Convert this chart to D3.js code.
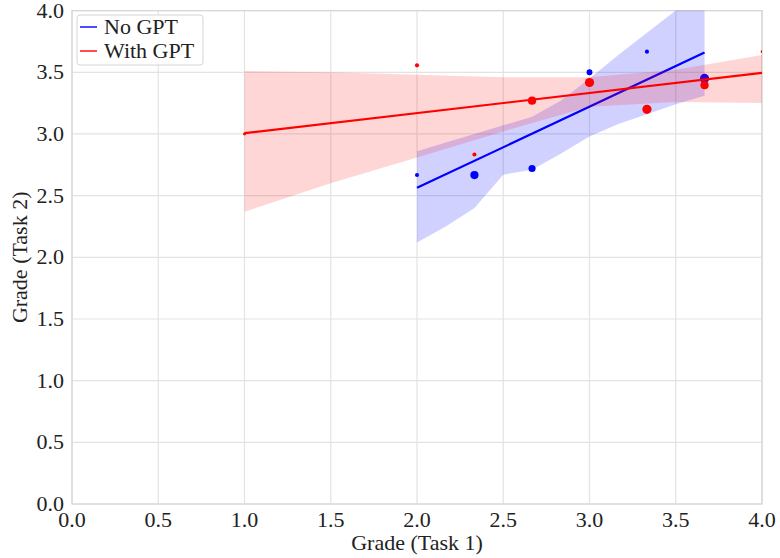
<!DOCTYPE html>
<html lang="en">
<head>
	<meta charset="utf-8">
	<title>Grade Task 1 vs Task 2</title>
	<script src="https://d3js.org/d3.v7.min.js" charset="utf-8"></script>
	<style>
		body { margin: 0; background: #fff; }
		text { font-family: "Liberation Serif", "DejaVu Serif", serif; fill: #222; }
	</style>
</head>
<body>
	<script>
		// scatter points (Task 1 grade, Task 2 grade, count)
		var noGptX = [2.0, 2.333, 2.667, 3.0, 3.333, 3.667];
		var noGptY = [2.667, 2.667, 2.72, 3.5, 3.667, 3.45];
		var noGptN = [1, 4, 3, 2, 1, 5];

		var withGptX = [1.0, 2.0, 2.333, 2.667, 3.0, 3.333, 3.667, 4.0];
		var withGptY = [3.0, 3.556, 2.833, 3.27, 3.417, 3.2, 3.395, 3.667];
		var withGptN = [0.5, 1, 1, 4, 5, 5, 4, 0.4];

		// fitted lines (endpoints)
		var noGptFitX = [2.0, 3.667];
		var noGptFitY = [2.563, 3.66];
		var withGptFitX = [1.0, 4.0];
		var withGptFitY = [3.006, 3.495];

		// confidence bands
		var noGptBandX = [2.0, 2.167, 2.333, 2.5, 2.667, 2.833, 3.0, 3.167, 3.333, 3.5, 3.667];
		var noGptBandLo = [2.12, 2.25, 2.40, 2.67, 2.71, 2.84, 2.98, 3.08, 3.16, 3.24, 3.31];
		var noGptBandHi = [2.86, 2.93, 3.00, 3.07, 3.14, 3.27, 3.45, 3.64, 3.82, 4.0, 4.35];

		var withGptBandX = [1.0, 1.5, 2.0, 2.5, 3.0, 3.5, 4.0];
		var withGptBandLo = [2.37, 2.60, 2.81, 3.02, 3.22, 3.26, 3.25];
		var withGptBandHi = [3.51, 3.50, 3.48, 3.46, 3.46, 3.52, 3.64];

		var tickValues = [0, 0.5, 1, 1.5, 2, 2.5, 3, 3.5, 4];

		var w = 780;
		var h = 558;
		var mLeft = 72, mRight = 762, mTop = 10.6, mBottom = 504;

		var svg = d3.select("body")
			.append("svg")
			.attr("width", w)
			.attr("height", h);

		var x = d3.scaleLinear().domain([0, 4]).range([mLeft, mRight]);
		var y = d3.scaleLinear().domain([0, 4]).range([mBottom, mTop]);
		var r = d3.scaleSqrt().domain([0, 5]).range([0, 4.6]);

		svg.append("clipPath")
			.attr("id", "plotclip")
			.append("rect")
			.attr("x", mLeft).attr("y", mTop)
			.attr("width", mRight - mLeft).attr("height", mBottom - mTop);

		// grid
		svg.append("g")
			.selectAll("line")
			.data(tickValues)
			.enter()
			.append("line")
			.attr("x1", function(d){ return x(d); })
			.attr("x2", function(d){ return x(d); })
			.attr("y1", mTop).attr("y2", mBottom)
			.attr("stroke", "#e3e3e3").attr("stroke-width", 1.2);
		svg.append("g")
			.selectAll("line")
			.data(tickValues)
			.enter()
			.append("line")
			.attr("y1", function(d){ return y(d); })
			.attr("y2", function(d){ return y(d); })
			.attr("x1", mLeft).attr("x2", mRight)
			.attr("stroke", "#e3e3e3").attr("stroke-width", 1.2);

		// frame
		svg.append("rect")
			.attr("x", mLeft).attr("y", mTop)
			.attr("width", mRight - mLeft).attr("height", mBottom - mTop)
			.attr("fill", "none")
			.attr("stroke", "#d6d6d6")
			.attr("stroke-width", 1.2);

		var plot = svg.append("g").attr("clip-path", "url(#plotclip)");

		function drawSeries(color, px, py, pn, fx, fy, bx, lo, hi, fillOpacity) {
			var pts = px.map(function(d, i){ return { x: d, y: py[i], n: pn[i] }; });
			plot.selectAll(null)
				.data(pts)
				.enter()
				.append("circle")
				.attr("cx", function(d){ return x(d.x); })
				.attr("cy", function(d){ return y(d.y); })
				.attr("r", function(d){ return r(d.n); })
				.attr("fill", color);

			var band = bx.map(function(d, i){ return { x: d, lo: lo[i], hi: hi[i] }; });
			var area = d3.area()
				.x(function(d){ return x(d.x); })
				.y0(function(d){ return y(d.lo); })
				.y1(function(d){ return y(d.hi); });
			plot.append("path")
				.datum(band)
				.attr("d", area)
				.attr("fill", color)
				.attr("fill-opacity", fillOpacity);

			var fit = fx.map(function(d, i){ return [d, fy[i]]; });
			plot.append("path")
				.datum(fit)
				.attr("d", d3.line().x(function(d){ return x(d[0]); }).y(function(d){ return y(d[1]); }))
				.attr("fill", "none")
				.attr("stroke", color)
				.attr("stroke-width", 2.2);
		}

		drawSeries("#0000ff", noGptX, noGptY, noGptN, noGptFitX, noGptFitY,
			noGptBandX, noGptBandLo, noGptBandHi, 0.18);
		drawSeries("#ff0000", withGptX, withGptY, withGptN, withGptFitX, withGptFitY,
			withGptBandX, withGptBandLo, withGptBandHi, 0.16);

		// axes tick labels
		var fmt = d3.format(".1f");
		svg.append("g")
			.selectAll("text")
			.data(tickValues)
			.enter()
			.append("text")
			.attr("x", function(d){ return x(d); })
			.attr("y", 527)
			.attr("text-anchor", "middle")
			.attr("font-size", 22)
			.text(fmt);
		svg.append("g")
			.selectAll("text")
			.data(tickValues)
			.enter()
			.append("text")
			.attr("x", 64)
			.attr("y", function(d){ return y(d) + 7; })
			.attr("text-anchor", "end")
			.attr("font-size", 22)
			.text(fmt);

		svg.append("text")
			.attr("x", (mLeft + mRight) / 2)
			.attr("y", 550)
			.attr("text-anchor", "middle")
			.attr("font-size", 22)
			.text("Grade (Task 1)");
		svg.append("text")
			.attr("transform", "translate(27," + ((mTop + mBottom) / 2) + ") rotate(-90)")
			.attr("text-anchor", "middle")
			.attr("font-size", 22)
			.text("Grade (Task 2)");

		// legend
		var legend = svg.append("g");
		legend.append("rect")
			.attr("x", 77).attr("y", 15)
			.attr("width", 126).attr("height", 50)
			.attr("rx", 3)
			.attr("fill", "#fff").attr("fill-opacity", 0.85)
			.attr("stroke", "#d6d6d6");
		var items = [["No GPT", "#0000ff"], ["With GPT", "#ff0000"]];
		items.forEach(function(it, i){
			var yy = 27 + i * 24;
			legend.append("line")
				.attr("x1", 80).attr("x2", 97)
				.attr("y1", yy).attr("y2", yy)
				.attr("stroke", it[1]).attr("stroke-opacity", 0.7)
				.attr("stroke-width", 2);
			legend.append("text")
				.attr("x", 104).attr("y", yy + 7)
				.attr("font-size", 22)
				.text(it[0]);
		});
	</script>
</body>
</html>
